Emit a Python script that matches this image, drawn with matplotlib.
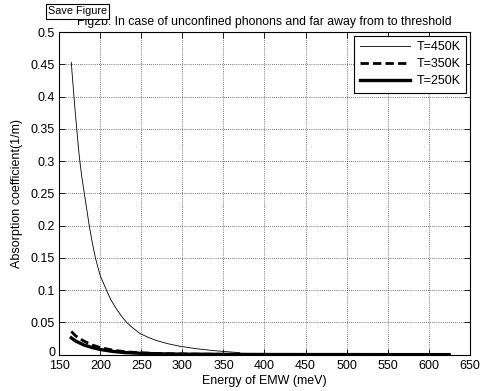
import matplotlib
matplotlib.use("Agg")
import matplotlib.pyplot as plt
import matplotlib.transforms as mtransforms
import numpy as np

# Data
e_450 = [164.6, 166.0, 167.9, 169.5, 171.3, 173.0, 175.0, 177.5, 180.5, 183.5, 186.5, 190.0, 194.0, 200.0,
         207.5, 212.0, 218.0, 225.0, 232.0, 240.0, 248.0, 258.0, 268.0, 282.0, 297.0, 318.0, 340.0, 370.0]
a_450 = [0.453, 0.43, 0.40, 0.375, 0.35, 0.325, 0.30, 0.275, 0.25, 0.225, 0.20, 0.175, 0.15, 0.122,
         0.10, 0.087, 0.074, 0.061, 0.050, 0.041, 0.033, 0.027, 0.022, 0.017, 0.013, 0.009, 0.006, 0.003]

e_350 = [164.6, 170, 180, 190, 200, 215, 230, 250, 270, 300, 350, 400, 450, 500]
a_350 = [0.036, 0.029, 0.021, 0.015, 0.011, 0.007, 0.0045, 0.0028, 0.0018, 0.001, 0.0005, 0.0003, 0.0002, 0.0001]

e_250 = [164.6, 170, 180, 190, 200, 215, 230, 250, 270, 300, 350, 400, 450, 500, 550, 600, 625]
a_250 = [0.026, 0.021, 0.015, 0.011, 0.008, 0.005, 0.0032, 0.002, 0.0013, 0.0007, 0.0004, 0.0002, 0.0001, 0.0001, 0.0, 0.0, 0.0]

x_ticks = [150, 200, 250, 300, 350, 400, 450, 500, 550, 600, 650]
y_ticks = [0, 0.05, 0.1, 0.15, 0.2, 0.25, 0.3, 0.35, 0.4, 0.45, 0.5]
y_tick_labels = ["0", "0.05", "0.1", "0.15", "0.2", "0.25", "0.3", "0.35", "0.4", "0.45", "0.5"]

plt.rcParams['font.family'] = ['Liberation Sans', 'DejaVu Sans']
plt.rcParams['font.size'] = 9

fig = plt.figure(figsize=(4.8, 3.91), dpi=100)
ax = fig.add_axes([0.1235, 0.093, 0.855, 0.825])

ax.plot(e_450, a_450, color='black', lw=0.6, label='T=450K')
ax.plot(e_350, a_350, color='black', lw=2.0, ls=(0, (3, 1.5)), label='T=350K')
ax.plot(e_250, a_250, color='black', lw=2.4, label='T=250K')

ax.set_xlim(150, 650)
ax.set_ylim(0, 0.5)
ax.set_xticks(x_ticks)
ax.set_yticks(y_ticks)
ax.set_yticklabels(y_tick_labels)
ax.tick_params(direction='in', top=True, right=True, length=4, width=0.6, labelsize=9)
ax.tick_params(axis='x', pad=4)
ax.tick_params(axis='y', pad=3)
ax.grid(True, color='black', ls=(0, (1, 2)), lw=0.5)
for s in ax.spines.values():
    s.set_linewidth(0.8)

# nudge the "0" y tick label slightly upward so it does not touch "150"
zero_lbl = ax.get_yticklabels()[0]
zero_lbl.set_transform(zero_lbl.get_transform() +
                       mtransforms.ScaledTranslation(0, 3 / 100, fig.dpi_scale_trans))

ax.set_xlabel('Energy of EMW (meV)', labelpad=2)
ax.set_ylabel('Absorption coefficient(1/m)', labelpad=6)
ax.set_title('Fig2b. In case of unconfined phonons and far away from to threshold', fontsize=8.8, pad=5)

leg = ax.legend(loc='upper right', fancybox=False, edgecolor='black', framealpha=1,
                handlelength=4.0, borderpad=0.45, labelspacing=0.4, handletextpad=0.5,
                borderaxespad=0.3, fontsize=9)
leg.get_frame().set_linewidth(0.8)

fig.text(0.1, 0.971, 'Save Figure', fontsize=7.8, ha='left', va='center',
         bbox=dict(boxstyle='square,pad=0.2', facecolor='white', edgecolor='black', lw=0.8))

fig.savefig('out.png', dpi=100, facecolor='white')
